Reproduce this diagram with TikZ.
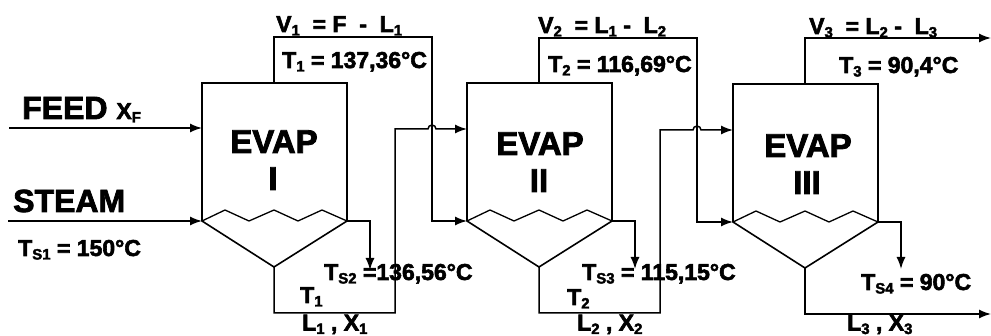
\documentclass[tikz,border=0pt]{standalone}
\usepackage{fontspec}
\setmainfont{Liberation Sans}[BoldFeatures={FakeBold=2.5}]
\usetikzlibrary{arrows.meta}
\newcommand{\dn}[1]{\raisebox{-3.5pt}{\fontsize{15}{15}\selectfont #1}}
\tikzset{
  unit/.style={line width=1.6pt,line join=miter},
  stream/.style={line width=1.5pt,-{Latex[length=12pt,width=9pt]}},
  lbl/.style={anchor=base west,inner sep=0pt,font=\fontsize{23}{23}\selectfont\bfseries},
  biglbl/.style={anchor=base west,inner sep=0pt,font=\fontsize{32}{32}\selectfont\bfseries},
  evaplbl/.style={anchor=base,inner sep=0pt,font=\fontsize{33}{33}\selectfont\bfseries}
}
\begin{document}
\begin{tikzpicture}[x=1pt,y=-1pt]
  \useasboundingbox (0,0) rectangle (991,336);
  % evaporators
  \foreach \n/\xa/\ya in {1/202/83,2/467/83,3/733/84}{
    \begin{scope}[shift={(\xa,\ya)}]
      \coordinate (top\n) at (72,0);
      \coordinate (wl\n) at (0,138);
      \coordinate (wr\n) at (145,138);
      \coordinate (apex\n) at (72,184);
      \draw[unit] (wl\n) -- (0,0) -- (145,0) -- (wr\n) -- (apex\n) -- cycle;
      \draw[unit,line width=1.3pt] (wl\n) -- (23,127) -- (47,138) -- (72,127) -- (96,138) -- (120,127) -- (wr\n);
    \end{scope}
  }
  % free ends and corners
  \coordinate (feedin) at (9,128);
  \coordinate (feedend) at (202,128);
  \coordinate (steamin) at (8,221);
  \coordinate (cond1) at (370,270);
  \coordinate (cond2) at (635,269);
  \coordinate (cond3) at (901,269);
  \coordinate (v1) at (432,37);
  \coordinate (v2) at (697,38);
  \coordinate (v3end) at (991,38);
  \coordinate (l1) at (395,313);
  \coordinate (l2) at (660,313);
  \coordinate (l3end) at (991,314);
  \coordinate (in2) at (467,129);
  \coordinate (in3) at (733,130);
  % streams
  \draw[stream] (feedin) -- (feedend);
  \draw[stream] (steamin) -- (wl1);
  \draw[stream] (wr1) -| (cond1);
  \draw[stream] (wr2) -| (cond2);
  \draw[stream] (wr3) -| (cond3);
  \draw[stream] (top1) |- (v1) |- (wl2);
  \draw[stream] (top2) |- (v2) |- (wl3);
  \draw[stream] (top3) |- (v3end);
  \draw[stream] (apex1) |- (l1) |- (428,129) arc[start angle=180,end angle=360,radius=4] -- (in2);
  \draw[stream] (apex2) |- (l2) |- (693,130) arc[start angle=180,end angle=360,radius=4] -- (in3);
  \draw[stream] (apex3) |- (l3end);
  % labels
  \node[biglbl] (feed) at (22,119) {FEED \fontsize{23}{23}\selectfont X\dn{F}};
  \node[biglbl] (steam) at (13,212) {STEAM};
  \node[lbl] (ts1) at (18,256) {T\dn{S1} = 150°C};
  \node[evaplbl] (evap1) at (274,153) {EVAP};
  \node[evaplbl] (num1) at (273,190) {I};
  \node[evaplbl] (evap2) at (540,155) {EVAP};
  \node[evaplbl] (num2) at (539,192) {II};
  \node[evaplbl] (evap3) at (808,157) {EVAP};
  \node[evaplbl] (num3) at (807,194) {III};
  \node[lbl] (vap1) at (276,32) {V\dn{1} \ = F \ - \ L\dn{1}};
  \node[lbl] (vap2) at (538,33) {V\dn{2} \ = L\dn{1} - \ L\dn{2}};
  \node[lbl] (vap3) at (809,34) {V\dn{3} \ = L\dn{2} - \ L\dn{3}};
  \node[lbl] (t1) at (282,68) {T\dn{1} = 137,36°C};
  \node[lbl] (t2) at (548,72) {T\dn{2} = 116,69°C};
  \node[lbl] (t3) at (839,73) {T\dn{3} = 90,4°C};
  \node[lbl] (ts2) at (324,280) {T\dn{S2} =136,56°C};
  \node[lbl] (ts3) at (582,280) {T\dn{S3} = 115,15°C};
  \node[lbl] (ts4) at (861,290) {T\dn{S4} = 90°C};
  \node[lbl] (tb1) at (300,303) {T\dn{1}};
  \node[lbl] (tb2) at (567,305) {T\dn{2}};
  \node[lbl] (liq1) at (302,330.5) {L\dn{1} , X\dn{1}};
  \node[lbl] (liq2) at (577,330.5) {L\dn{2} , X\dn{2}};
  \node[lbl] (liq3) at (847,330.5) {L\dn{3} , X\dn{3}};
\end{tikzpicture}
\end{document}
